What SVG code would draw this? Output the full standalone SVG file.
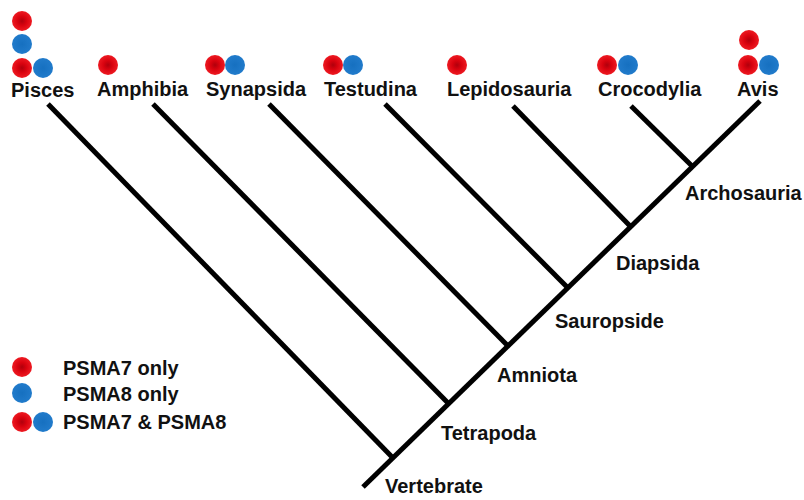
<svg xmlns="http://www.w3.org/2000/svg" width="804" height="500" viewBox="0 0 804 500">
  <defs>
    <radialGradient id="redg" cx="50%" cy="50%" r="50%">
      <stop offset="0%" stop-color="#b0000c"/>
      <stop offset="45%" stop-color="#d9030f"/>
      <stop offset="100%" stop-color="#ee1a22"/>
    </radialGradient>
    <radialGradient id="blueg" cx="50%" cy="50%" r="50%">
      <stop offset="0%" stop-color="#1670c0"/>
      <stop offset="100%" stop-color="#217bcb"/>
    </radialGradient>
  </defs>
  <style>
    .lbl { font-family: "Liberation Sans", Arial, sans-serif; font-weight: bold; font-size: 20px; fill: #111; }
    .br { stroke: #000; stroke-width: 5; stroke-linecap: butt; fill: none; }
    .r { fill: url(#redg); }
    .b { fill: url(#blueg); }
  </style>
  <rect width="804" height="500" fill="#fff"/>

  <g id="connectors">
    <line class="br" x1="363" y1="487" x2="760" y2="101"/>
    <line class="br" x1="48" y1="104" x2="393" y2="458"/>
    <line class="br" x1="153" y1="104" x2="449" y2="404"/>
    <line class="br" x1="269" y1="104" x2="508" y2="346"/>
    <line class="br" x1="385" y1="104" x2="568" y2="288"/>
    <line class="br" x1="513" y1="106" x2="631" y2="227"/>
    <line class="br" x1="631" y1="106" x2="693" y2="167"/>
  </g>

  <g id="pisces">
    <circle class="r" cx="22" cy="21" r="10"/>
    <circle class="b" cx="22" cy="44" r="10"/>
    <circle class="r" cx="22" cy="68" r="10"/>
    <circle class="b" cx="43" cy="68" r="10"/>
    <text class="lbl" x="11" y="97">Pisces</text>
  </g>
  <g id="amphibia">
    <circle class="r" cx="108" cy="65" r="10"/>
    <text class="lbl" x="97" y="96">Amphibia</text>
  </g>
  <g id="synapsida">
    <circle class="r" cx="215" cy="65" r="10"/>
    <circle class="b" cx="235" cy="65" r="10"/>
    <text class="lbl" x="206" y="96">Synapsida</text>
  </g>
  <g id="testudina">
    <circle class="r" cx="333" cy="65" r="10"/>
    <circle class="b" cx="353" cy="65" r="10"/>
    <text class="lbl" x="324" y="96">Testudina</text>
  </g>
  <g id="lepidosauria">
    <circle class="r" cx="457" cy="65" r="10"/>
    <text class="lbl" x="447" y="96">Lepidosauria</text>
  </g>
  <g id="crocodylia">
    <circle class="r" cx="607" cy="65" r="10"/>
    <circle class="b" cx="628" cy="65" r="10"/>
    <text class="lbl" x="598" y="96">Crocodylia</text>
  </g>
  <g id="avis">
    <circle class="r" cx="749" cy="40" r="10"/>
    <circle class="r" cx="748" cy="65" r="10"/>
    <circle class="b" cx="769" cy="65" r="10"/>
    <text class="lbl" x="737" y="96">Avis</text>
  </g>

  <g id="archosauria"><text class="lbl" x="685" y="200">Archosauria</text></g>
  <g id="diapsida"><text class="lbl" x="616" y="270">Diapsida</text></g>
  <g id="sauropside"><text class="lbl" x="555" y="328">Sauropside</text></g>
  <g id="amniota"><text class="lbl" x="497" y="382">Amniota</text></g>
  <g id="tetrapoda"><text class="lbl" x="441" y="440">Tetrapoda</text></g>
  <g id="vertebrate"><text class="lbl" x="385" y="493">Vertebrate</text></g>

  <g id="legend">
    <circle class="r" cx="22" cy="367" r="10"/>
    <circle class="b" cx="22" cy="393" r="10"/>
    <circle class="r" cx="22" cy="422" r="10"/>
    <circle class="b" cx="43" cy="422" r="10"/>
    <text class="lbl" x="63" y="375">PSMA7 only</text>
    <text class="lbl" x="63" y="401">PSMA8 only</text>
    <text class="lbl" x="63" y="429">PSMA7 &amp; PSMA8</text>
  </g>
</svg>
